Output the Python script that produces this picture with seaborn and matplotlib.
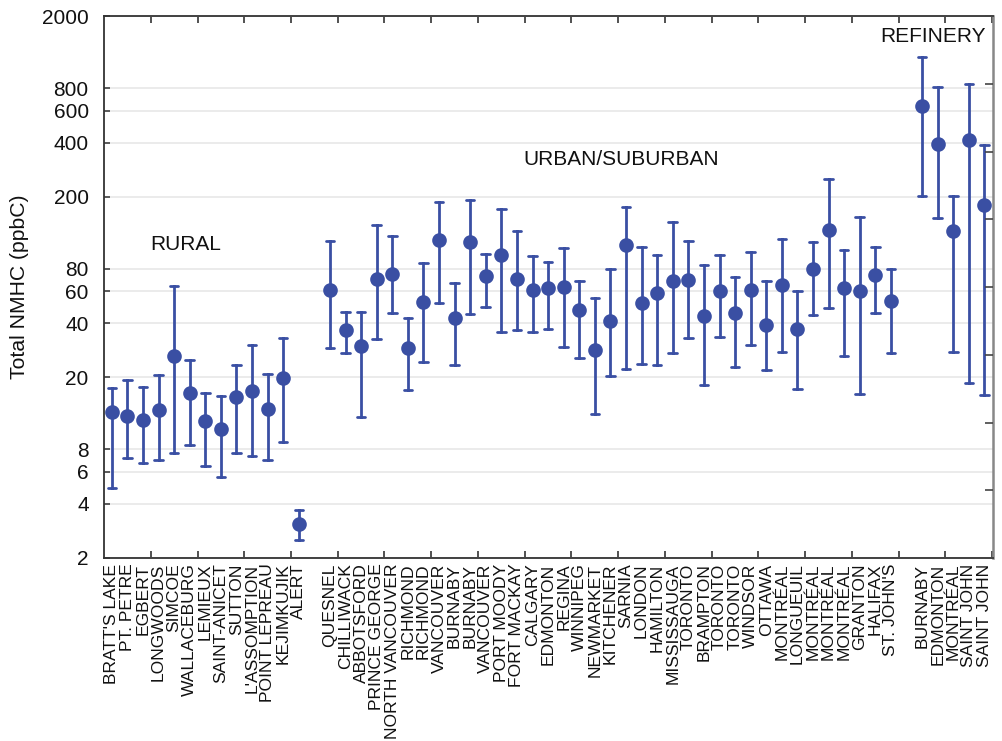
import matplotlib
matplotlib.use("Agg")
import matplotlib.pyplot as plt
import matplotlib.ticker as mticker
import numpy as np
import pandas as pd
import seaborn as sns

# ---------------- data ----------------
rural_sites = ["BRATT'S LAKE", "PT. PETRE", "EGBERT", "LONGWOODS", "SIMCOE", "WALLACEBURG",
               "LEMIEUX", "SAINT-ANICET", "SUTTON", "L'ASSOMPTION", "POINT LEPREAU",
               "KEJIMKUJIK", "ALERT"]
rural_mid = [12.9, 12.3, 11.6, 13.2, 26.2, 16.5, 11.4, 10.4, 15.5, 16.9, 13.4, 19.8, 3.1]
rural_low = [4.9, 7.2, 6.7, 7.0, 7.6, 8.5, 6.5, 5.6, 7.6, 7.3, 7.0, 8.8, 2.5]
rural_high = [17.5, 19.4, 17.8, 20.5, 64.5, 24.9, 16.5, 15.7, 23.4, 30.1, 21.0, 33.1, 3.7]

urban_sites = ["QUESNEL", "CHILLIWACK", "ABBOTSFORD", "PRINCE GEORGE", "NORTH VANCOUVER",
               "RICHMOND", "RICHMOND", "VANCOUVER", "BURNABY", "BURNABY", "VANCOUVER",
               "PORT MOODY", "FORT MACKAY", "CALGARY", "EDMONTON", "REGINA", "WINNIPEG",
               "NEWMARKET", "KITCHENER", "SARNIA", "LONDON", "HAMILTON", "MISSISSAUGA",
               "TORONTO", "BRAMPTON", "TORONTO", "TORONTO", "WINDSOR", "OTTAWA", "MONTRÉAL",
               "LONGUEUIL", "MONTRÉAL", "MONTRÉAL", "MONTRÉAL", "GRANTON", "HALIFAX",
               "ST. JOHN'S"]
urban_mid = [61.0, 36.5, 29.7, 70.3, 74.5, 29.1, 52.6, 116, 42.5, 112, 73.3, 95.5, 70.3,
             60.7, 62.3, 63.7, 47.5, 28.4, 40.9, 108, 51.9, 58.5, 68.1, 69.4, 43.8, 60.0,
             45.5, 61.0, 38.9, 64.8, 36.9, 79.9, 131, 62.9, 60.5, 74.0, 53.1]
urban_low = [29.1, 27.4, 12.1, 32.8, 45.7, 17.0, 24.5, 51.9, 23.4, 44.9, 49.3, 35.7, 36.6,
             35.7, 37.3, 29.6, 25.5, 12.5, 20.4, 22.3, 23.6, 23.3, 27.3, 32.9, 18.2, 33.3,
             22.7, 30.2, 21.9, 27.5, 17.3, 44.1, 48.7, 26.3, 16.2, 45.7, 27.2]
urban_high = [114, 46.3, 46.3, 139, 122, 42.7, 86.2, 188, 66.4, 193, 97.1, 172, 130,
              94.3, 87.3, 104, 68.5, 54.9, 79.9, 176, 106, 95.8, 146, 114, 84.0, 95.8,
              72.1, 99.2, 68.8, 116.5, 60.3, 112, 252, 102, 154, 106, 80.2]

refinery_sites = ["BURNABY", "EDMONTON", "MONTRÉAL", "SAINT JOHN", "SAINT JOHN"]
refinery_mid = [641, 391, 129, 411, 181]
refinery_low = [201, 152, 27.8, 18.7, 15.9]
refinery_high = [1191, 812, 203, 840, 388]

group_labels = ["RURAL", "URBAN/SUBURBAN", "REFINERY"]
y_ticks = [2, 4, 6, 8, 20, 40, 60, 80, 200, 400, 600, 800, 2000]

# ---------------- layout of slots (one empty slot between groups) ----------------
groups = [(rural_sites, rural_mid, rural_low, rural_high),
          (urban_sites, urban_mid, urban_low, urban_high),
          (refinery_sites, refinery_mid, refinery_low, refinery_high)]
rows = []
positions, labels = [], []
start = 0
for sites, mid, low, high in groups:
    pos = list(range(start, start + len(sites)))
    for p, s, m, lo, hi in zip(pos, sites, mid, low, high):
        for v in (lo, m, hi):
            rows.append({"pos": p, "value": v})
        positions.append(p)
        labels.append(s)
    start += len(sites) + 1
df = pd.DataFrame(rows)
n_slots = start - 1

# ---------------- plot ----------------
sns.set_theme(style="white")
plt.rcParams["font.family"] = ["Liberation Sans", "DejaVu Sans"]

fig = plt.figure(figsize=(10.03, 7.41), dpi=100)
ax = fig.add_axes([0.1037, 0.247, 0.8863, 0.731])
ax.set_yscale("log")

blue = "#3a4fa3"
sns.pointplot(data=df, x="pos", y="value", estimator="median", errorbar=("pi", 100),
              native_scale=True, linestyle="none", color=blue, capsize=0.55,
              err_kws={"linewidth": 2.0}, markersize=8.5, marker="o", ax=ax)

ax.set_xlim(-0.5, n_slots - 0.45)
ax.set_ylim(2, 2000)

ax.yaxis.set_major_locator(mticker.FixedLocator(y_ticks))
ax.yaxis.set_major_formatter(mticker.FixedFormatter([str(t) for t in y_ticks]))
ax.yaxis.set_minor_locator(mticker.NullLocator())
ax.grid(axis="y", color="#ebebeb", linewidth=1.4)
ax.set_axisbelow(True)

ax.set_xticks(positions)
ax.set_xticklabels(labels, rotation=90, fontsize=12.6)
ax.xaxis.set_minor_locator(mticker.FixedLocator(np.arange(2.5, n_slots, 3)))
ax.tick_params(axis="x", which="major", length=0, pad=4, colors="#111111")
ax.tick_params(axis="x", which="minor", length=5, width=1.2, direction="in",
               top=True, bottom=True, color="#333333")
ax.tick_params(axis="y", which="major", length=4, width=1.1, direction="in",
               labelsize=15, pad=11, colors="#111111")
ax.tick_params(axis="y", which="major", color="#333333")
ax.set_xlabel("")
ax.set_ylabel("Total NMHC (ppbC)", fontsize=15.2, labelpad=9, color="#111111")

for sp in ax.spines.values():
    sp.set_color("#333333")
    sp.set_linewidth(1.3)
ax.spines["right"].set_color("#888888")
ax.spines["right"].set_linewidth(1.8)

# right axis with evenly spaced inward ticks
ax2 = ax.twinx()
ax2.set_ylim(0, 8)
ax2.set_yticks(np.arange(0, 9))
ax2.tick_params(axis="y", direction="in", length=6, width=1.2, labelright=False, color="#444444")
ax2.grid(False)
for sp in ax2.spines.values():
    sp.set_visible(False)

# group annotations
ax.text(4.75, 109, group_labels[0], fontsize=15, ha="center", va="center", color="#111111")
ax.text(32.7, 322, group_labels[1], fontsize=15, ha="center", va="center", color="#111111")
ax.text(52.7, 1550, group_labels[2], fontsize=15, ha="center", va="center", color="#111111")

fig.savefig("out.png", dpi=100)
